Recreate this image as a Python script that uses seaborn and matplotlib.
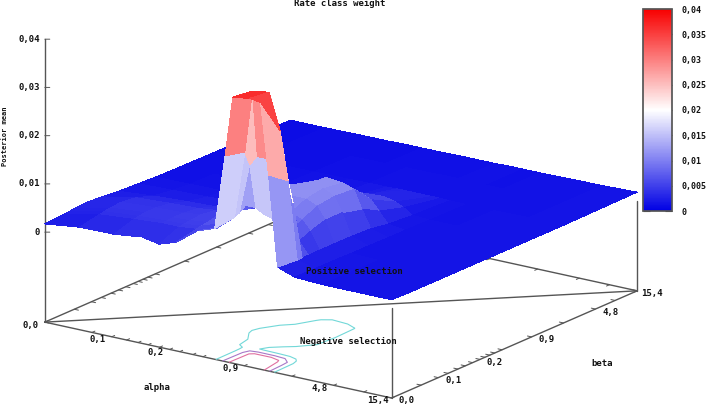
import numpy as np
import matplotlib
matplotlib.use('Agg')
import matplotlib.pyplot as plt
import seaborn as sns
from matplotlib.cm import ScalarMappable
from matplotlib.colors import Normalize
from mpl_toolkits.mplot3d import proj3d

# Display positions of the (non linear) alpha / beta grid, 0..1 along each axis
alpha_grid = [0, .1, .2, .28, .33, .38, .44, .49, .52, .542, .59, .622, .645, .671, .72, .8, .9, 1]
beta_grid = [0, .08, .1, .125, .17, .23, .3, .38, .45, .55, .7, .85, 1]

# Posterior mean x 1000, one row per beta_grid value
weight_rows = [
    [1.7, 2.6, 2.7, 3.4, 2.7, 3.9, 7.2, 8.5, 24, 36.5, 37, 36.7, 22, 3.3, 2.0, 1.7, 1.7, 1.7],
    [2.0, 3.4, 4.0, 4.4, 4.4, 4.8, 6.0, 9.0, 23, 36, 36.5, 29, 19, 3.0, 1.9, 1.7, 1.6, 1.6],
    [2.1, 3.6, 4.2, 4.5, 4.6, 5.0, 6.5, 9.5, 20, 22, 22, 20, 14, 3.0, 1.9, 1.7, 1.6, 1.6],
    [2.2, 3.8, 4.4, 4.6, 4.8, 5.2, 9.0, 10.5, 10.5, 9.5, 8.5, 7.5, 5.5, 3.0, 1.9, 1.7, 1.6, 1.6],
    [2.4, 4.0, 4.4, 4.6, 5.0, 5.5, 9.0, 11, 11, 10.5, 9.5, 8.5, 6.5, 3.0, 1.9, 1.7, 1.6, 1.6],
    [2.2, 3.6, 4.0, 4.2, 4.6, 5.2, 10.5, 11, 11, 11, 11, 10, 7.5, 3.0, 1.8, 1.6, 1.6, 1.6],
    [1.8, 2.4, 2.8, 3.0, 3.4, 4.2, 9.0, 11, 11.5, 11.6, 11.6, 10.5, 7.5, 3.0, 1.8, 1.6, 1.6, 1.6],
    [1.6, 1.8, 2.0, 2.2, 2.4, 3.0, 5.5, 8.0, 10.5, 11.4, 11, 10.2, 6.5, 2.8, 1.7, 1.6, 1.6, 1.6],
    [1.4, 1.5, 1.6, 1.7, 1.8, 2.0, 3.0, 5.0, 7.0, 7.5, 7.5, 6.5, 4.5, 2.2, 1.7, 1.6, 1.6, 1.6],
    [1.3, 1.4, 1.4, 1.5, 1.5, 1.6, 2.0, 2.6, 3.4, 4.2, 4.4, 3.8, 3.0, 1.8, 1.6, 1.6, 1.6, 1.6],
    [1.2, 1.2, 1.3, 1.3, 1.4, 1.4, 1.5, 1.5, 1.6, 1.6, 1.6, 1.6, 1.6, 1.5, 1.5, 1.5, 1.6, 1.6],
    [1.1, 1.1, 1.2, 1.2, 1.3, 1.3, 1.4, 1.4, 1.4, 1.5, 1.5, 1.5, 1.5, 1.4, 1.4, 1.5, 1.6, 1.7],
    [1.0, 1.0, 1.1, 1.1, 1.2, 1.2, 1.2, 1.3, 1.3, 1.3, 1.3, 1.4, 1.4, 1.4, 1.4, 1.5, 1.6, 1.8],
]

# Tick positions along the axes, with labels on only some of them
alpha_ticks = [0, .136, .193, .236, .269, .298, .331, .36, .389, .427, .456, .575, .713, .833, .92, 1]
beta_ticks = [0, .12, .19, .23, .27, .30, .33, .36, .38, .40, .42, .45, .57, .70, .83, .91, 1]
alpha_labeled = {0: '0,0', .193: '0,1', .36: '0,2', .575: '0,9', .833: '4,8', 1: '15,4'}
beta_labeled = {0: '0,0', .19: '0,1', .36: '0,2', .57: '0,9', .83: '4,8', 1: '15,4'}
z_ticks = [0, .01, .02, .03, .04]
z_labels = ['0', '0,01', '0,02', '0,03', '0,04']
bar_ticks = [0, .005, .01, .015, .02, .025, .03, .035, .04]
bar_labels = ['0', '0,005', '0,01', '0,015', '0,02', '0,025', '0,03', '0,035', '0,04']
contour_levels = [.01, .02, .03]
contour_colors = ['#72d8d8', '#a878c8', '#e070a0']
z_floor = -.01865

sns.set_theme(style='white')
plt.rcParams['font.family'] = ['DejaVu Sans Mono']
plt.rcParams['font.weight'] = 'bold'
plt.rcParams['font.size'] = 6.5

cmap = sns.blend_palette(['#0000e4', '#ffffff', '#f80000'], as_cmap=True)
line_color = '#555555'
text_color = '#111111'
fig_w, fig_h, side = 709, 405, 651

A, B = np.meshgrid(alpha_grid, beta_grid)
Z = np.array(weight_rows) / 1000

fig = plt.figure(figsize=(fig_w / 100, fig_h / 100), dpi=100)
ax = fig.add_axes([6.7 / fig_w, -94.3 / fig_h, side / fig_w, side / fig_h], projection='3d',
                  proj_type='ortho', computed_zorder=False)
ax.view_init(elev=18, azim=-54.7)
ax.set_box_aspect((1, 1, .7))
ax.set_xlim(0, 1, view_margin=0)
ax.set_ylim(0, 1, view_margin=0)
ax.set_zlim(z_floor, .04, view_margin=0)
ax.set_axis_off()


def line(xs, ys, zs, lw=1.0, z=1):
    ax.plot(xs, ys, zs, color=line_color, lw=lw, zorder=z)


# Floor of the box and the diagonal
line([0, 1, 1, 0, 0], [0, 0, 1, 1, 0], [z_floor] * 5)
line([0, 1], [0, 1], [z_floor, z_floor])
line([0, 0], [0, 0], [z_floor, .04])
line([1, 1], [0, 0], [z_floor, 0])
line([1, 1], [1, 1], [z_floor, 0])

for t in alpha_ticks:
    line([t, t], [0, .012], [z_floor, z_floor], .7)
    line([t, t], [1, .988], [z_floor, z_floor], .7)
for t in beta_ticks:
    line([1, .988], [t, t], [z_floor, z_floor], .7)
    line([0, .012], [t, t], [z_floor, z_floor], .7)

ax.contour(A, B, Z, levels=contour_levels, zdir='z', offset=z_floor, colors=contour_colors,
           linewidths=.8, zorder=2)
surf = ax.plot_surface(A, B, Z, cmap=cmap, vmin=0, vmax=.04, rstride=1, cstride=1, shade=False,
                       antialiased=False, linewidth=0, zorder=3)


def label(text, xyz, dx, dy, **kw):
    # place a text a fixed number of pixels away from a 3D point
    px, py, _ = proj3d.proj_transform(*xyz, ax.get_proj())
    ax.annotate(text, (px, py), xytext=(dx, dy), textcoords='offset pixels', ha=kw.pop('ha', 'center'),
                va='center', color=text_color, zorder=6, **kw)


for t, s in alpha_labeled.items():
    label(s, (t, 0, z_floor), -14, -3)
for t, s in beta_labeled.items():
    label(s, (1, t, z_floor), 15, -3)
for t, s in zip(z_ticks, z_labels):
    label(s, (0, 0, t), -5, 0, ha='right')
    px, py, _ = proj3d.proj_transform(0, 0, t, ax.get_proj())
    ax.annotate('', (px, py), xytext=(5, 0), textcoords='offset pixels',
                arrowprops=dict(arrowstyle='-', color=line_color, lw=.7, shrinkA=0, shrinkB=0))

fig.text(340 / fig_w, 1 - 4 / fig_h, 'Rate class weight', ha='center', va='center', color=text_color)
fig.text(5 / fig_w, 1 - 136 / fig_h, 'Posterior mean', rotation=90, ha='center', va='center',
         color=text_color, fontsize=5)
fig.text(157 / fig_w, 1 - 388 / fig_h, 'alpha', ha='center', va='center', color=text_color)
fig.text(602 / fig_w, 1 - 363 / fig_h, 'beta', ha='center', va='center', color=text_color)
fig.text(354 / fig_w, 1 - 271 / fig_h, 'Positive selection', ha='center', va='center', color=text_color)
fig.text(348 / fig_w, 1 - 341 / fig_h, 'Negative selection', ha='center', va='center', color=text_color)

cax = fig.add_axes([643 / fig_w, 1 - 211 / fig_h, 29 / fig_w, 202 / fig_h])
bar = fig.colorbar(ScalarMappable(Normalize(0, .04), cmap), cax=cax)
bar.set_ticks(bar_ticks, labels=bar_labels)
bar.outline.set_edgecolor(line_color)
cax.tick_params(left=True, right=True, direction='in', length=5, width=.8, color='#444444',
                labelsize=6, labelcolor=text_color, pad=7)

fig.savefig('out.png', dpi=100)
